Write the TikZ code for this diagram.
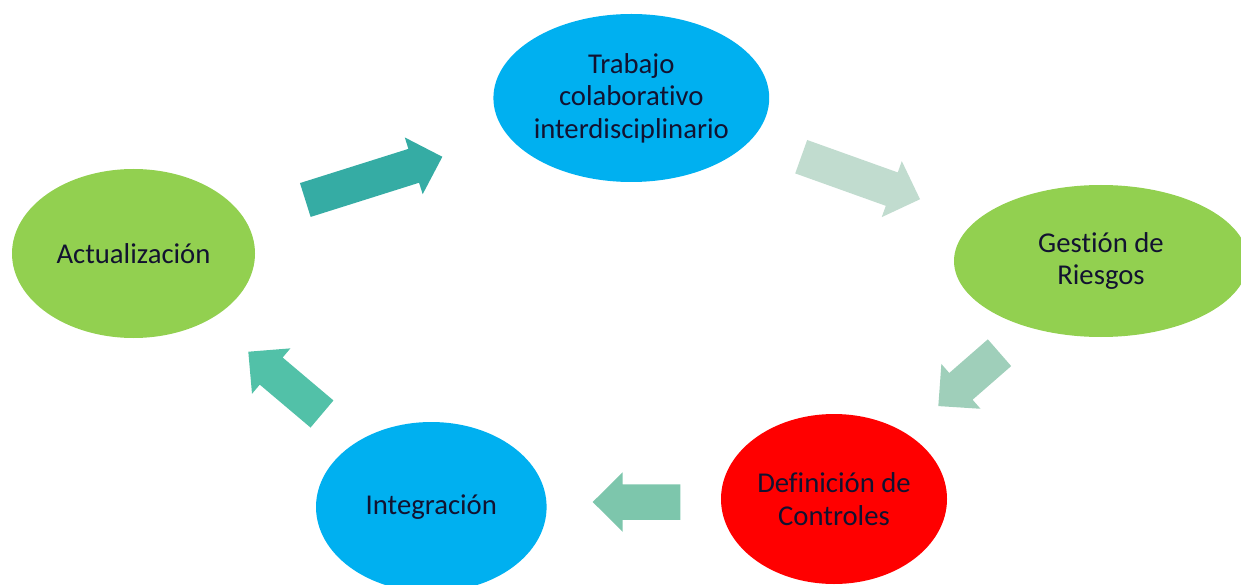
\documentclass[tikz,border=0pt]{standalone}
\usepackage{fontspec}
\setmainfont{Carlito}[Ligatures={NoCommon}, RawFeature={-liga;-clig;-dlig}]
\usetikzlibrary{shapes.geometric}
\definecolor{ecyan}{RGB}{0,176,240}
\definecolor{egreen}{RGB}{146,208,80}
\definecolor{ered}{RGB}{255,0,0}
\definecolor{txt}{RGB}{18,18,48}
\definecolor{arA}{RGB}{53,172,164}
\definecolor{arB}{RGB}{193,220,207}
\definecolor{arC}{RGB}{159,207,186}
\definecolor{arD}{RGB}{125,198,172}
\definecolor{arE}{RGB}{82,193,168}
\tikzset{
  stage/.style={ellipse, inner sep=0pt, text=txt, align=center,
    font=\fontsize{28.7}{32.5}\selectfont},
}
% #1 name, #2 x, #3 y (tail middle, image px), #4 angle (image, clockwise), #5 length, #6 colour
\newcommand\blockarr[6]{%
  \begin{scope}[shift={(#2,#3)}, rotate=-#4]
    \fill[#6] (0,-17.75) -- (#5-30,-17.75) -- (#5-30,-29.75) -- (#5,0)
      -- (#5-30,29.75) -- (#5-30,17.75) -- (0,17.75) -- cycle;
    \coordinate (#1) at (#5,0);
  \end{scope}}
\begin{document}
\begin{tikzpicture}[x=1pt,y=-1pt]
\useasboundingbox (0,0) rectangle (1241,585);
\clip (0,0) rectangle (1241,585);
\node[stage, fill=ecyan, minimum width=269.4pt, minimum height=168pt] (trab) at (631.3,98)
  {Trabajo\\colaborativo\\interdisciplinario};
\node[stage, fill=egreen, minimum width=294pt, minimum height=152pt] (gest) at (1101,261)
  {Gestión de\\Riesgos};
\node[stage, fill=ered, minimum width=226pt, minimum height=170pt] (defi) at (834,499)
  {Definición de\\Controles};
\node[stage, fill=ecyan, minimum width=230.6pt, minimum height=170pt] (inte) at (431.3,507)
  {Integración};
\node[stage, fill=egreen, minimum width=243pt, minimum height=169pt] (actu) at (133.5,253.5)
  {Actualización};
\blockarr{a1}{305.3}{200}{-17.5}{143.7}{arA}
\blockarr{a2}{801.2}{156.7}{19.7}{126.2}{arB}
\blockarr{a3}{999.5}{352.7}{138.9}{81.2}{arC}
\blockarr{a4}{680.3}{502}{180}{87.6}{arD}
\blockarr{a5}{322}{414}{-139.8}{96.5}{arE}
\end{tikzpicture}
\end{document}
